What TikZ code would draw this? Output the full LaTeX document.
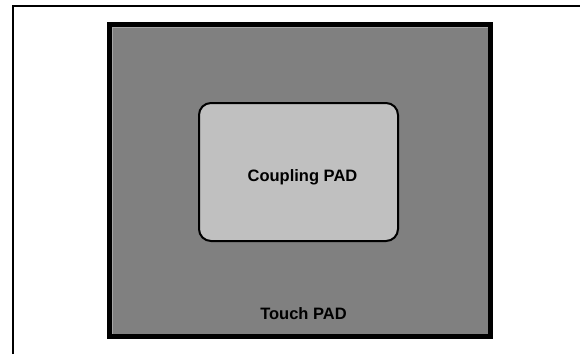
\documentclass[tikz,border=0pt]{standalone}
\usepackage{fontspec}
\setmainfont{Liberation Sans}
\definecolor{touchgray}{HTML}{808080}
\definecolor{couplegray}{HTML}{C0C0C0}
\definecolor{edgelight}{HTML}{A6A6A6}
\definecolor{edgedark}{HTML}{5E5E5E}
\begin{document}
\begin{tikzpicture}[x=1pt,y=-1pt,
  padlabel/.style={font=\bfseries\fontsize{16.5}{19}\selectfont, inner sep=0pt}]
  \useasboundingbox (0,0) rectangle (580,354);
  % page frame (open to the right and bottom)
  \draw[line width=2.2pt] (13,354) -- (13,6) -- (580,6);
  % touch pad
  \fill[touchgray] (109.5,24.5) rectangle (490.5,336.5);
  \draw[edgelight, line width=1pt] (112.5,334) -- (112.5,27.5) -- (488,27.5);
  \draw[edgedark, line width=1pt] (112.5,334) -- (488,334) -- (488,27.5);
  \draw[line width=5pt] (109.5,24.5) rectangle (490.5,336.5);
  % coupling pad
  \draw[line width=2pt, fill=couplegray, rounded corners=12pt] (199,103) rectangle (398,241);
  \node[padlabel] (coupling) at (302.5,177) {Coupling PAD};
  \node[padlabel] (touch) at (303.5,314) {Touch PAD};
\end{tikzpicture}
\end{document}
